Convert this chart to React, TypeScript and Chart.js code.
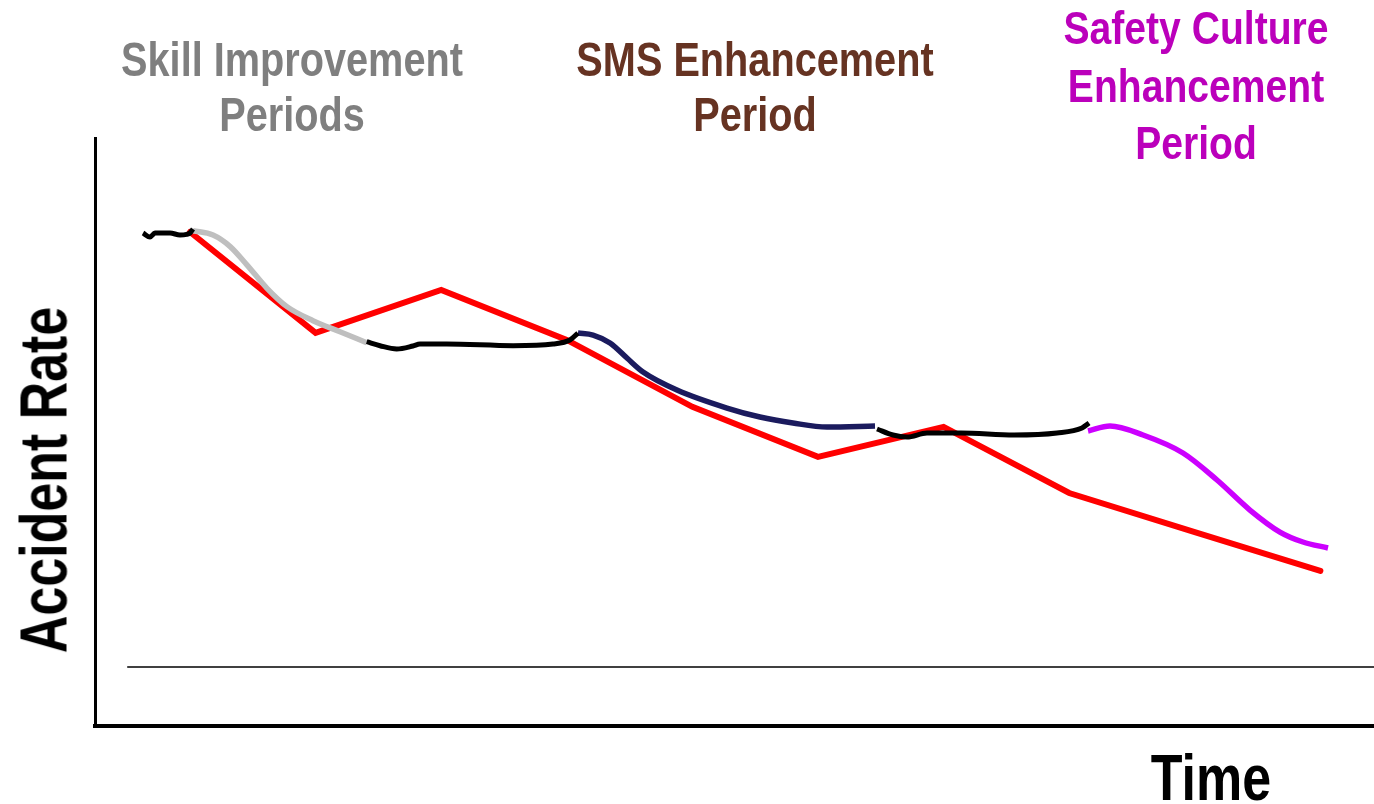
import React, { useEffect, useRef } from "react";
import { Chart, registerables } from "chart.js";

Chart.register(...registerables);

// ---- data (time units, accident-rate units) ----
const RED_T = [1, 2, 3, 4, 5, 6, 7, 8, 9, 10];
const RED_RATE = [10.0, 7.68, 8.67, 7.52, 5.98, 4.83, 5.52, 4.0, 3.1, 2.21];

const BLACK1_T = [0.626, 0.682, 0.721, 0.841, 0.92, 0.973, 1.0, 1.024];
const BLACK1_RATE = [9.977, 9.885, 9.977, 9.977, 9.931, 9.946, 9.977, 10.069];

const GRAY_T = [1.024, 1.183, 1.32, 1.453, 1.613, 1.772, 1.979, 2.194, 2.407];
const GRAY_RATE = [10.03, 9.93, 9.665, 9.245, 8.706, 8.284, 7.961, 7.708, 7.456];

const BLACK2_T = [2.407, 2.513, 2.646, 2.775, 2.831, 3.044, 3.572, 3.89, 4.025, 4.089];
const BLACK2_RATE = [7.478, 7.386, 7.31, 7.379, 7.425, 7.425, 7.386, 7.425, 7.517, 7.678];

const NAVY_T = [4.089, 4.209, 4.344, 4.479, 4.607, 4.877, 5.275, 5.538, 5.801, 6.072, 6.454];
const NAVY_RATE = [7.678, 7.632, 7.448, 7.103, 6.782, 6.368, 5.954, 5.747, 5.609, 5.517, 5.54];

const BLACK3_T = [6.47, 6.597, 6.709, 6.868, 7.139, 7.561, 7.903, 8.102, 8.158];
const BLACK3_RATE = [5.471, 5.333, 5.287, 5.379, 5.379, 5.333, 5.379, 5.494, 5.609];

const PURPLE_T = [8.15, 8.325, 8.588, 8.906, 9.177, 9.439, 9.678, 9.861, 10.061];
const PURPLE_RATE = [5.425, 5.54, 5.333, 4.92, 4.299, 3.609, 3.103, 2.874, 2.736];

const BASE_T = [0.5, 10.43];
const BASE_RATE = [0, 0];

const X_MIN = 0.2436;
const X_MAX = 10.427;
const Y_MIN = -1.356;
const Y_MAX = 12.161;

const AXIS_Y_TITLE = "Accident Rate";
const AXIS_X_TITLE = "Time";
const PERIOD_SKILL = ["Skill Improvement", "Periods"];
const PERIOD_SMS = ["SMS Enhancement", "Period"];
const PERIOD_CULTURE = ["Safety Culture", "Enhancement", "Period"];

const pts = (t: number[], r: number[]) => t.map((x, i) => ({ x, y: r[i] }));

const FONT = '"Liberation Sans", Arial, "DejaVu Sans", sans-serif';

function Label(props: {
  lines: string[];
  cx: number;
  top: number;
  size: number;
  lh: number;
  color: string;
  sx: number;
}) {
  const { lines, cx, top, size, lh, color, sx } = props;
  return (
    <div
      style={{
        position: "absolute",
        left: cx,
        top,
        transform: `translateX(-50%) scaleX(${sx})`,
        transformOrigin: "center top",
        fontFamily: FONT,
        fontWeight: 700,
        fontSize: size,
        lineHeight: `${lh}px`,
        color,
        textAlign: "center",
        whiteSpace: "nowrap",
      }}
    >
      {lines.map((l, i) => (
        <div key={i}>{l}</div>
      ))}
    </div>
  );
}

export default function App() {
  const ref = useRef<HTMLCanvasElement | null>(null);

  useEffect(() => {
    if (!ref.current) return;
    const curve = (data: any, color: string, width: number) => ({
      data,
      borderColor: color,
      borderWidth: width,
      pointRadius: 0,
      cubicInterpolationMode: "monotone" as const,
      borderCapStyle: "butt" as const,
      fill: false,
    });
    const chart = new Chart(ref.current, {
      type: "line",
      data: {
        datasets: [
          curve(pts(BLACK1_T, BLACK1_RATE), "#000000", 5),
          curve(pts(BLACK2_T, BLACK2_RATE), "#000000", 5),
          curve(pts(BLACK3_T, BLACK3_RATE), "#000000", 5),
          curve(pts(GRAY_T, GRAY_RATE), "#BFBFBF", 5.5),
          curve(pts(NAVY_T, NAVY_RATE), "#1B1B5E", 5.5),
          curve(pts(PURPLE_T, PURPLE_RATE), "#CC00FF", 5.5),
          {
            data: pts(RED_T, RED_RATE),
            borderColor: "#FF0000",
            borderWidth: 6,
            pointRadius: 0,
            tension: 0,
            borderCapStyle: "round",
            borderJoinStyle: "miter",
            fill: false,
          },
          {
            data: pts(BASE_T, BASE_RATE),
            borderColor: "#000000",
            borderWidth: 1.6,
            pointRadius: 0,
            tension: 0,
            fill: false,
          },
        ],
      },
      options: {
        animation: false,
        responsive: false,
        events: [],
        layout: { padding: { left: 95, right: 0, top: 138, bottom: 78 } },
        plugins: { legend: { display: false }, tooltip: { enabled: false } },
        scales: {
          x: {
            type: "linear",
            min: X_MIN,
            max: X_MAX,
            grid: { display: false, drawTicks: false },
            ticks: { display: false },
            border: { display: true, color: "#000000", width: 4 },
          },
          y: {
            type: "linear",
            min: Y_MIN,
            max: Y_MAX,
            grid: { display: false, drawTicks: false },
            ticks: { display: false },
            border: { display: true, color: "#000000", width: 3 },
          },
        },
      },
    });
    return () => chart.destroy();
  }, []);

  return (
    <div
      style={{
        position: "fixed",
        left: 0,
        top: 0,
        width: 1374,
        height: 804,
        overflow: "hidden",
        background: "#ffffff",
      }}
    >
      <canvas ref={ref} width={1374} height={804} style={{ display: "block" }} />
      <Label lines={PERIOD_SKILL} cx={292} top={32} size={49} lh={55} color="#7F7F7F" sx={0.81} />
      <Label lines={PERIOD_SMS} cx={755} top={32} size={49} lh={55} color="#663322" sx={0.81} />
      <Label lines={PERIOD_CULTURE} cx={1196} top={0} size={46} lh={57.5} color="#BB00BB" sx={0.85} />
      <Label lines={[AXIS_X_TITLE]} cx={1211} top={745} size={65} lh={65} color="#000000" sx={0.8} />
      <div
        style={{
          position: "absolute",
          left: 43,
          top: 480,
          transform: "translate(-50%, -50%) rotate(-90deg) scaleX(0.775)",
          fontFamily: FONT,
          fontWeight: 700,
          fontSize: 67,
          lineHeight: "67px",
          color: "#000000",
          whiteSpace: "nowrap",
        }}
      >
        {AXIS_Y_TITLE}
      </div>
    </div>
  );
}
